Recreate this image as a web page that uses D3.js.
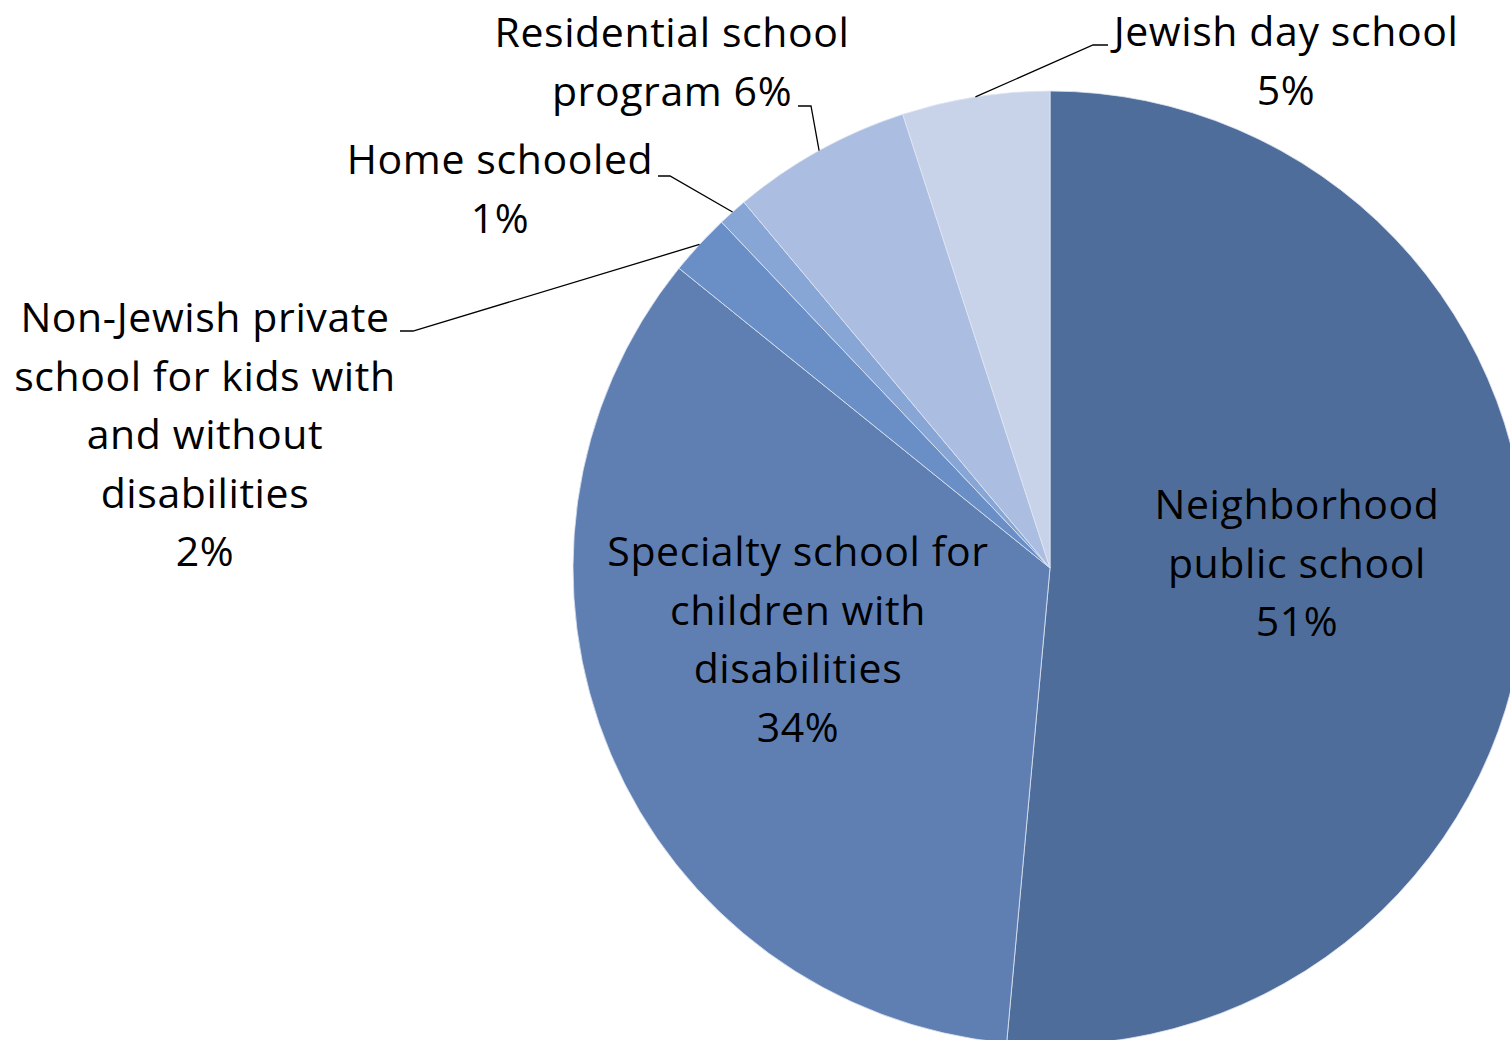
<!DOCTYPE html>
<html>
<head>
<meta charset="utf-8">
<script src="https://cdn.jsdelivr.net/npm/d3@7"></script>
<style>
  html, body { margin: 0; padding: 0; background: #fff; overflow: hidden; }
  svg { display: block; }
  text { font-family: "Open Sans", "Noto Sans", sans-serif; fill: #000; }
</style>
</head>
<body>
<svg id="chart" width="1510" height="1040"></svg>
<script>
// Data
const categories = [
  "Neighborhood public school",
  "Specialty school for children with disabilities",
  "Non-Jewish private school for kids with and without disabilities",
  "Home schooled",
  "Residential school program",
  "Jewish day school"
];
const values = [51.5, 34.4, 2.1, 1.0, 6.1, 5.0];
const percentLabels = ["51%", "34%", "2%", "1%", "6%", "5%"];
const labelLines = [
  ["Neighborhood", "public school", "51%"],
  ["Specialty school for", "children with", "disabilities", "34%"],
  ["Non-Jewish private", "school for kids with", "and without", "disabilities", "2%"],
  ["Home schooled", "1%"],
  ["Residential school", "program 6%"],
  ["Jewish day school", "5%"]
];
const colors = ["#4F6D9A", "#5F7FB3", "#6A8FC7", "#87A6D6", "#ABBDE0", "#C8D3EA"];

// Layout
const cx = 1050, cy = 568, R = 477;
const fontSize = 41, lineH = 58.5;
const labelPos = [
  [1297, 505],
  [798, 552],
  [205, 318],
  [500, 160],
  [672, 33],
  [1286, 32]
];
const leaders = {
  2: { start: [400, 331], elbow: [413, 331] },
  3: { start: [658, 176], elbow: [670, 176] },
  4: { start: [798, 106], elbow: [811, 106] },
  5: { start: [1108, 45], elbow: [1093, 45] }
};

const svg = d3.select("#chart");
const g = svg.append("g").attr("transform", `translate(${cx},${cy})`);

const pie = d3.pie().sort(null).value(d => d).startAngle(0).endAngle(2 * Math.PI);
const arcs = pie(values);
const arc = d3.arc().innerRadius(0).outerRadius(R);

g.selectAll("path.slice")
  .data(arcs)
  .enter().append("path")
  .attr("class", "slice")
  .attr("d", arc)
  .attr("fill", (d, i) => colors[i])
  .attr("stroke", "#dfe6f2")
  .attr("stroke-width", 0.8)
  .attr("stroke-linejoin", "round");

Object.keys(leaders).forEach(k => {
  const i = +k;
  const a = arcs[i];
  const L = leaders[k];
  const ang = (a.startAngle + a.endAngle) / 2;
  const px = cx + R * Math.sin(ang), py = cy - R * Math.cos(ang);
  svg.append("polyline")
    .attr("points", [L.start, L.elbow, [px, py]].map(p => p.join(",")).join(" "))
    .attr("fill", "none")
    .attr("stroke", "#000")
    .attr("stroke-width", 1.3);
});

labelLines.forEach((lines, i) => {
  const [x, y] = labelPos[i];
  const t = svg.append("text")
    .attr("text-anchor", "middle")
    .attr("font-size", fontSize)
    .attr("letter-spacing", "0.6px");
  lines.forEach((ln, j) => {
    t.append("tspan")
      .attr("x", x)
      .attr("y", y + j * lineH)
      .attr("dy", "0.35em")
      .text(ln);
  });
});
</script>
</body>
</html>
